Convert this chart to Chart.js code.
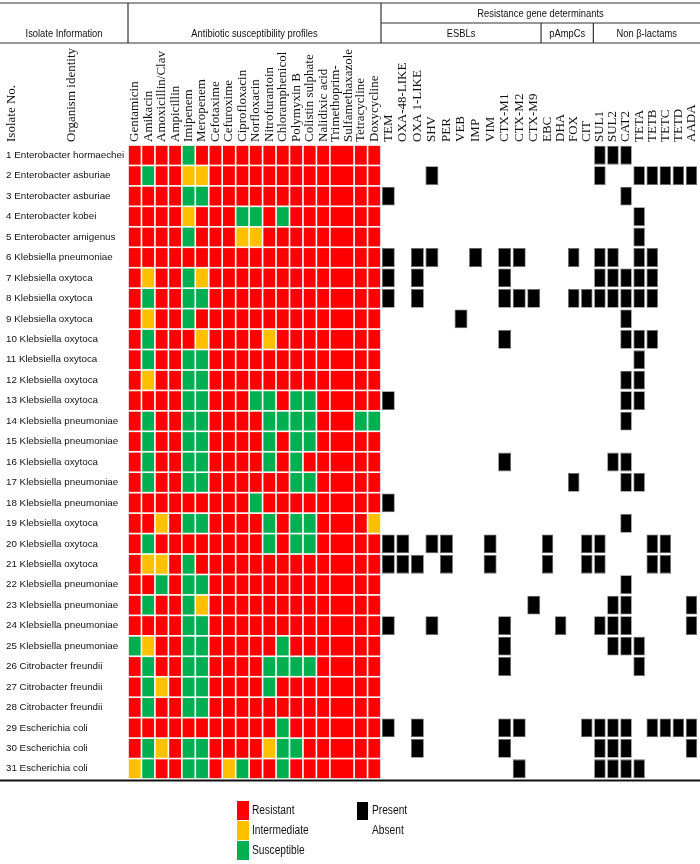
<!DOCTYPE html>
<html>
<head>
<meta charset="utf-8">
<script src="https://cdn.jsdelivr.net/npm/chart.js@4.4.1/dist/chart.umd.min.js"></script>
<style>
html, body { margin: 0; padding: 0; background: #fff; }
#wrap { width: 700px; height: 864px; position: relative; }
</style>
</head>
<body>
<div id="wrap"><canvas id="chart"></canvas></div>
<script>
// isolates
const isolateNo = [1, 2, 3, 4, 5, 6, 7, 8, 9, 10, 11, 12, 13, 14, 15, 16, 17, 18, 19, 20, 21, 22, 23, 24, 25, 26, 27, 28, 29, 30, 31];
const organisms = ["Enterobacter hormaechei", "Enterobacter asburiae", "Enterobacter asburiae", "Enterobacter kobei",
	"Enterobacter amigenus", "Klebsiella pneumoniae", "Klebsiella oxytoca", "Klebsiella oxytoca", "Klebsiella oxytoca",
	"Klebsiella oxytoca", "Klebsiella oxytoca", "Klebsiella oxytoca", "Klebsiella oxytoca", "Klebsiella pneumoniae",
	"Klebsiella pneumoniae", "Klebsiella oxytoca", "Klebsiella pneumoniae", "Klebsiella pneumoniae", "Klebsiella oxytoca",
	"Klebsiella oxytoca", "Klebsiella oxytoca", "Klebsiella pneumoniae", "Klebsiella pneumoniae", "Klebsiella pneumoniae",
	"Klebsiella pneumoniae", "Citrobacter freundii", "Citrobacter freundii", "Citrobacter freundii", "Escherichia coli",
	"Escherichia coli", "Escherichia coli"];

const antibiotics = ["Gentamicin", "Amikacin", "Amoxicillin/Clav", "Ampicillin", "Imipenem", "Meropenem", "Cefotaxime",
	"Cefuroxime", "Ciprofloxacin", "Norfloxacin", "Nitrofurantoin", "Chloramphenicol", "Polymyxin B", "Colistin sulphate",
	"Nalidixic acid", "Trimethoprim-Sulfamethaxazole", "Tetracycline", "Doxycycline"];
const genes = ["TEM", "OXA-48-LIKE", "OXA 1-LIKE", "SHV", "PER", "VEB", "IMP", "VIM", "CTX-M1", "CTX-M2", "CTX-M9",
	"EBC", "DHA", "FOX", "CIT",
	"SUL1", "SUL2", "CAT2", "TETA", "TETB", "TETC", "TETD", "AADA"];
const geneGroups = ["ESBLs", "pAmpCs", "Non β-lactams"];
const geneGroupSizes = [11, 4, 8];

// one letter per antibiotic: R resistant, I intermediate, S susceptible
const profiles = [
	"RRRRSRRRRRRRRRRRRR",
	"RSRRIIRRRRRRRRRRRR",
	"RRRRSSRRRRRRRRRRRR",
	"RRRRIRRRSSRSRRRRRR",
	"RRRRSRRRIIRRRRRRRR",
	"RRRRRRRRRRRRRRRRRR",
	"RIRRSIRRRRRRRRRRRR",
	"RSRRSSRRRRRRRRRRRR",
	"RIRRSRRRRRRRRRRRRR",
	"RSRRRIRRRRIRRRRRRR",
	"RSRRSSRRRRRRRRRRRR",
	"RIRRSSRRRRRRRRRRRR",
	"RRRRSSRRRSSRSSRRRR",
	"RSRRSSRRRRSSSSRRSS",
	"RSRRSSRRRRSRSSRRRR",
	"RSRRSSRRRRSRSRRRRR",
	"RSRRSSRRRRRRSSRRRR",
	"RRRRRRRRRSRRRRRRRR",
	"RRIRSSRRRRSRSSRRRI",
	"RSRRRRRRRRSRSSRRRR",
	"RIIRSRRRRRRRRRRRRR",
	"RRSRSSRRRRRRRRRRRR",
	"RSRRSIRRRRRRRRRRRR",
	"RRRRSSRRRRRRRRRRRR",
	"SIRRSSRRRRRSRRRRRR",
	"RSRRSSRRRRSSSSRRRR",
	"RSIRSSRRRRSRRRRRRR",
	"RSRRSSRRRRRRRRRRRR",
	"RRRRRRRRRRRSRRRRRR",
	"RSIRSSRRRRISSRRRRR",
	"ISRRSSRISRRSRRRRRR"
];

const genesPresent = [
	["SUL1", "SUL2", "CAT2"],
	["SHV", "SUL1", "TETA", "TETB", "TETC", "TETD", "AADA"],
	["TEM", "CAT2"],
	["TETA"],
	["TETA"],
	["TEM", "OXA 1-LIKE", "SHV", "IMP", "CTX-M1", "CTX-M2", "FOX", "SUL1", "SUL2", "TETA", "TETB"],
	["TEM", "OXA 1-LIKE", "CTX-M1", "SUL1", "SUL2", "CAT2", "TETA", "TETB"],
	["TEM", "OXA 1-LIKE", "CTX-M1", "CTX-M2", "CTX-M9", "FOX", "CIT", "SUL1", "SUL2", "CAT2", "TETA", "TETB"],
	["VEB", "CAT2"],
	["CTX-M1", "CAT2", "TETA", "TETB"],
	["TETA"],
	["CAT2", "TETA"],
	["TEM", "CAT2", "TETA"],
	["CAT2"],
	[],
	["CTX-M1", "SUL2", "CAT2"],
	["FOX", "CAT2", "TETA"],
	["TEM"],
	["CAT2"],
	["TEM", "OXA-48-LIKE", "SHV", "PER", "VIM", "EBC", "CIT", "SUL1", "TETB", "TETC"],
	["TEM", "OXA-48-LIKE", "OXA 1-LIKE", "PER", "VIM", "EBC", "CIT", "SUL1", "TETB", "TETC"],
	["CAT2"],
	["CTX-M9", "SUL2", "CAT2", "AADA"],
	["TEM", "SHV", "CTX-M1", "DHA", "SUL1", "SUL2", "CAT2", "AADA"],
	["CTX-M1", "SUL2", "CAT2", "TETA"],
	["CTX-M1", "TETA"],
	[],
	[],
	["TEM", "OXA 1-LIKE", "CTX-M1", "CTX-M2", "CIT", "SUL1", "SUL2", "CAT2", "TETB", "TETC", "TETD", "AADA"],
	["OXA 1-LIKE", "CTX-M1", "SUL1", "SUL2", "CAT2", "AADA"],
	["CTX-M2", "SUL1", "SUL2", "CAT2", "TETA"]
];

const states = ["Resistant", "Intermediate", "Susceptible"];
const stateCodes = ["R", "I", "S"];
const stateColors = ["#FF0000", "#FFC000", "#00B050"];

window.onload = run;

function run(){
	const sans = "'Liberation Sans', Arial, sans-serif";
	const serif = "'Liberation Serif', 'Times New Roman', serif";

	// column widths in x units, the combined Trim/Sulfa column is wider
	let widths = [];
	for(let i = 0; i < antibiotics.length; i++){
		widths.push(antibiotics[i].indexOf("Trimethoprim") === 0 ? 1.8 : 1);
	}
	for(let g = 0; g < geneGroupSizes.length; g++){
		for(let k = 0; k < geneGroupSizes[g]; k++) widths.push(g === 0 ? 1.081 : 0.972);
	}
	let edges = [0];
	for(let i = 0; i < widths.length; i++) edges.push(edges[i] + widths[i]);
	let total = edges[edges.length - 1];
	let centers = widths.map((w, i) => edges[i] + w / 2);
	let colLabels = antibiotics.map(a => a.indexOf("Trimethoprim") === 0 ? ["Trimethoprim-", "Sulfamethaxazole"] : [a])
		.concat(genes.map(g => [g]));

	let rowLabels = isolateNo.map((n, i) => n + " " + organisms[i]);
	let gap = 0.06;

	let dataSets = [];
	for(let s = 0; s < states.length; s++){
		let data = [];
		for(let r = 0; r < profiles.length; r++){
			for(let c = 0; c < antibiotics.length; c++){
				if(profiles[r][c] === stateCodes[s]){
					data.push({x: [edges[c] + gap, edges[c + 1] - gap], y: rowLabels[r]});
				}
			}
		}
		dataSets.push({
			label: states[s],
			data: data,
			backgroundColor: stateColors[s],
			borderWidth: 0,
			grouped: false,
			barPercentage: 0.92,
			categoryPercentage: 1
		});
	}
	let present = [];
	for(let r = 0; r < genesPresent.length; r++){
		for(let k = 0; k < genesPresent[r].length; k++){
			let c = antibiotics.length + genes.indexOf(genesPresent[r][k]);
			present.push({x: [edges[c] + gap, edges[c + 1] - gap], y: rowLabels[r]});
		}
	}
	dataSets.push({
		label: "Present",
		data: present,
		backgroundColor: "#000000",
		borderColor: "#6b6b6b",
		borderWidth: 0.8,
		borderSkipped: false,
		grouped: false,
		barPercentage: 0.92,
		categoryPercentage: 1
	});

	// header table, column names, rotated row-headers and legend
	const decor = {
		id: "decor",
		afterDraw(chart){
			const ctx = chart.ctx;
			const xs = chart.scales.x;
			const area = chart.chartArea;
			const px = v => xs.getPixelForValue(v);
			let abEnd = px(edges[antibiotics.length]);
			let W = chart.width;
			ctx.save();
			ctx.strokeStyle = "#333";
			ctx.lineWidth = 1.2;
			function line(x1, y1, x2, y2){
				ctx.beginPath(); ctx.moveTo(x1, y1); ctx.lineTo(x2, y2); ctx.stroke();
			}
			// narrow text, squeezed like the condensed face of the original
			function narrowText(t, x, y){
				ctx.fillText(t, x, y, ctx.measureText(t).width * 0.85);
			}
			line(0, 3, W, 3);
			line(abEnd, 23, W, 23);
			line(0, 43, W, 43);
			line(area.left, 3, area.left, 43);
			line(abEnd, 3, abEnd, 43);
			let c = antibiotics.length;
			let groupEdges = [abEnd];
			for(let g = 0; g < geneGroupSizes.length; g++){
				c += geneGroupSizes[g];
				groupEdges.push(g === geneGroupSizes.length - 1 ? W : px(edges[c]));
				if(g < geneGroupSizes.length - 1) line(px(edges[c]), 23, px(edges[c]), 43);
			}
			ctx.lineWidth = 2;
			ctx.strokeStyle = "#111";
			line(0, area.bottom + 1.5, W, area.bottom + 1.5);

			ctx.fillStyle = "#111";
			ctx.font = "11px " + sans;
			ctx.textAlign = "center";
			ctx.textBaseline = "middle";
			narrowText("Isolate Information", area.left / 2, 34);
			narrowText("Antibiotic susceptibility profiles", (area.left + abEnd) / 2, 34);
			narrowText("Resistance gene determinants", (abEnd + W) / 2, 14);
			for(let g = 0; g < geneGroups.length; g++){
				narrowText(geneGroups[g], (groupEdges[g] + groupEdges[g + 1]) / 2, 34);
			}

			// rotated labels, reading upwards from just above the grid
			ctx.font = "13px " + serif;
			ctx.textAlign = "left";
			function upText(t, x){
				ctx.save();
				ctx.translate(x, area.top - 3); ctx.rotate(-Math.PI / 2);
				ctx.fillText(t, 0, 0);
				ctx.restore();
			}
			upText("Isolate No.", 12);
			upText("Organism identity", 72);
			for(let i = 0; i < colLabels.length; i++){
				let lines = colLabels[i];
				for(let l = 0; l < lines.length; l++){
					upText(lines[l], px(centers[i]) + (l - (lines.length - 1) / 2) * 13);
				}
			}

			// legend
			for(let s = 0; s < states.length; s++){
				ctx.fillStyle = stateColors[s];
				ctx.fillRect(237, 801 + s * 20, 12, 19);
			}
			ctx.fillStyle = "#000";
			ctx.fillRect(357, 802, 11, 18);
			ctx.fillStyle = "#111";
			ctx.font = "12px " + sans;
			for(let s = 0; s < states.length; s++){
				narrowText(states[s], 252, 811 + s * 20);
			}
			narrowText("Present", 372, 811);
			narrowText("Absent", 372, 831);
			ctx.restore();
		}
	};

	let ctx = document.getElementById("chart").getContext("2d");
	let chart = new Chart(ctx, {
		type: "bar",
		data: {
			labels: rowLabels,
			datasets: dataSets
		},
		options: {
			indexAxis: "y",
			responsive: true,
			maintainAspectRatio: false,
			animation: false,
			layout: {padding: {left: 6, right: 2, top: 0, bottom: 85}},
			plugins: {legend: {display: false}, tooltip: {enabled: false}},
			scales: {
				x: {
					type: "linear",
					position: "top",
					min: 0,
					max: total,
					grid: {display: false},
					border: {display: false},
					afterFit: s => { s.height = 145; },
					ticks: {display: false}
				},
				y: {
					type: "category",
					grid: {display: false},
					border: {display: false},
					afterFit: s => { s.width = 122; },
					ticks: {
						crossAlign: "far",
						color: "#111",
						font: {family: sans, size: 9.8}
					}
				}
			}
		},
		plugins: [decor]
	});
}
</script>
</body>
</html>
